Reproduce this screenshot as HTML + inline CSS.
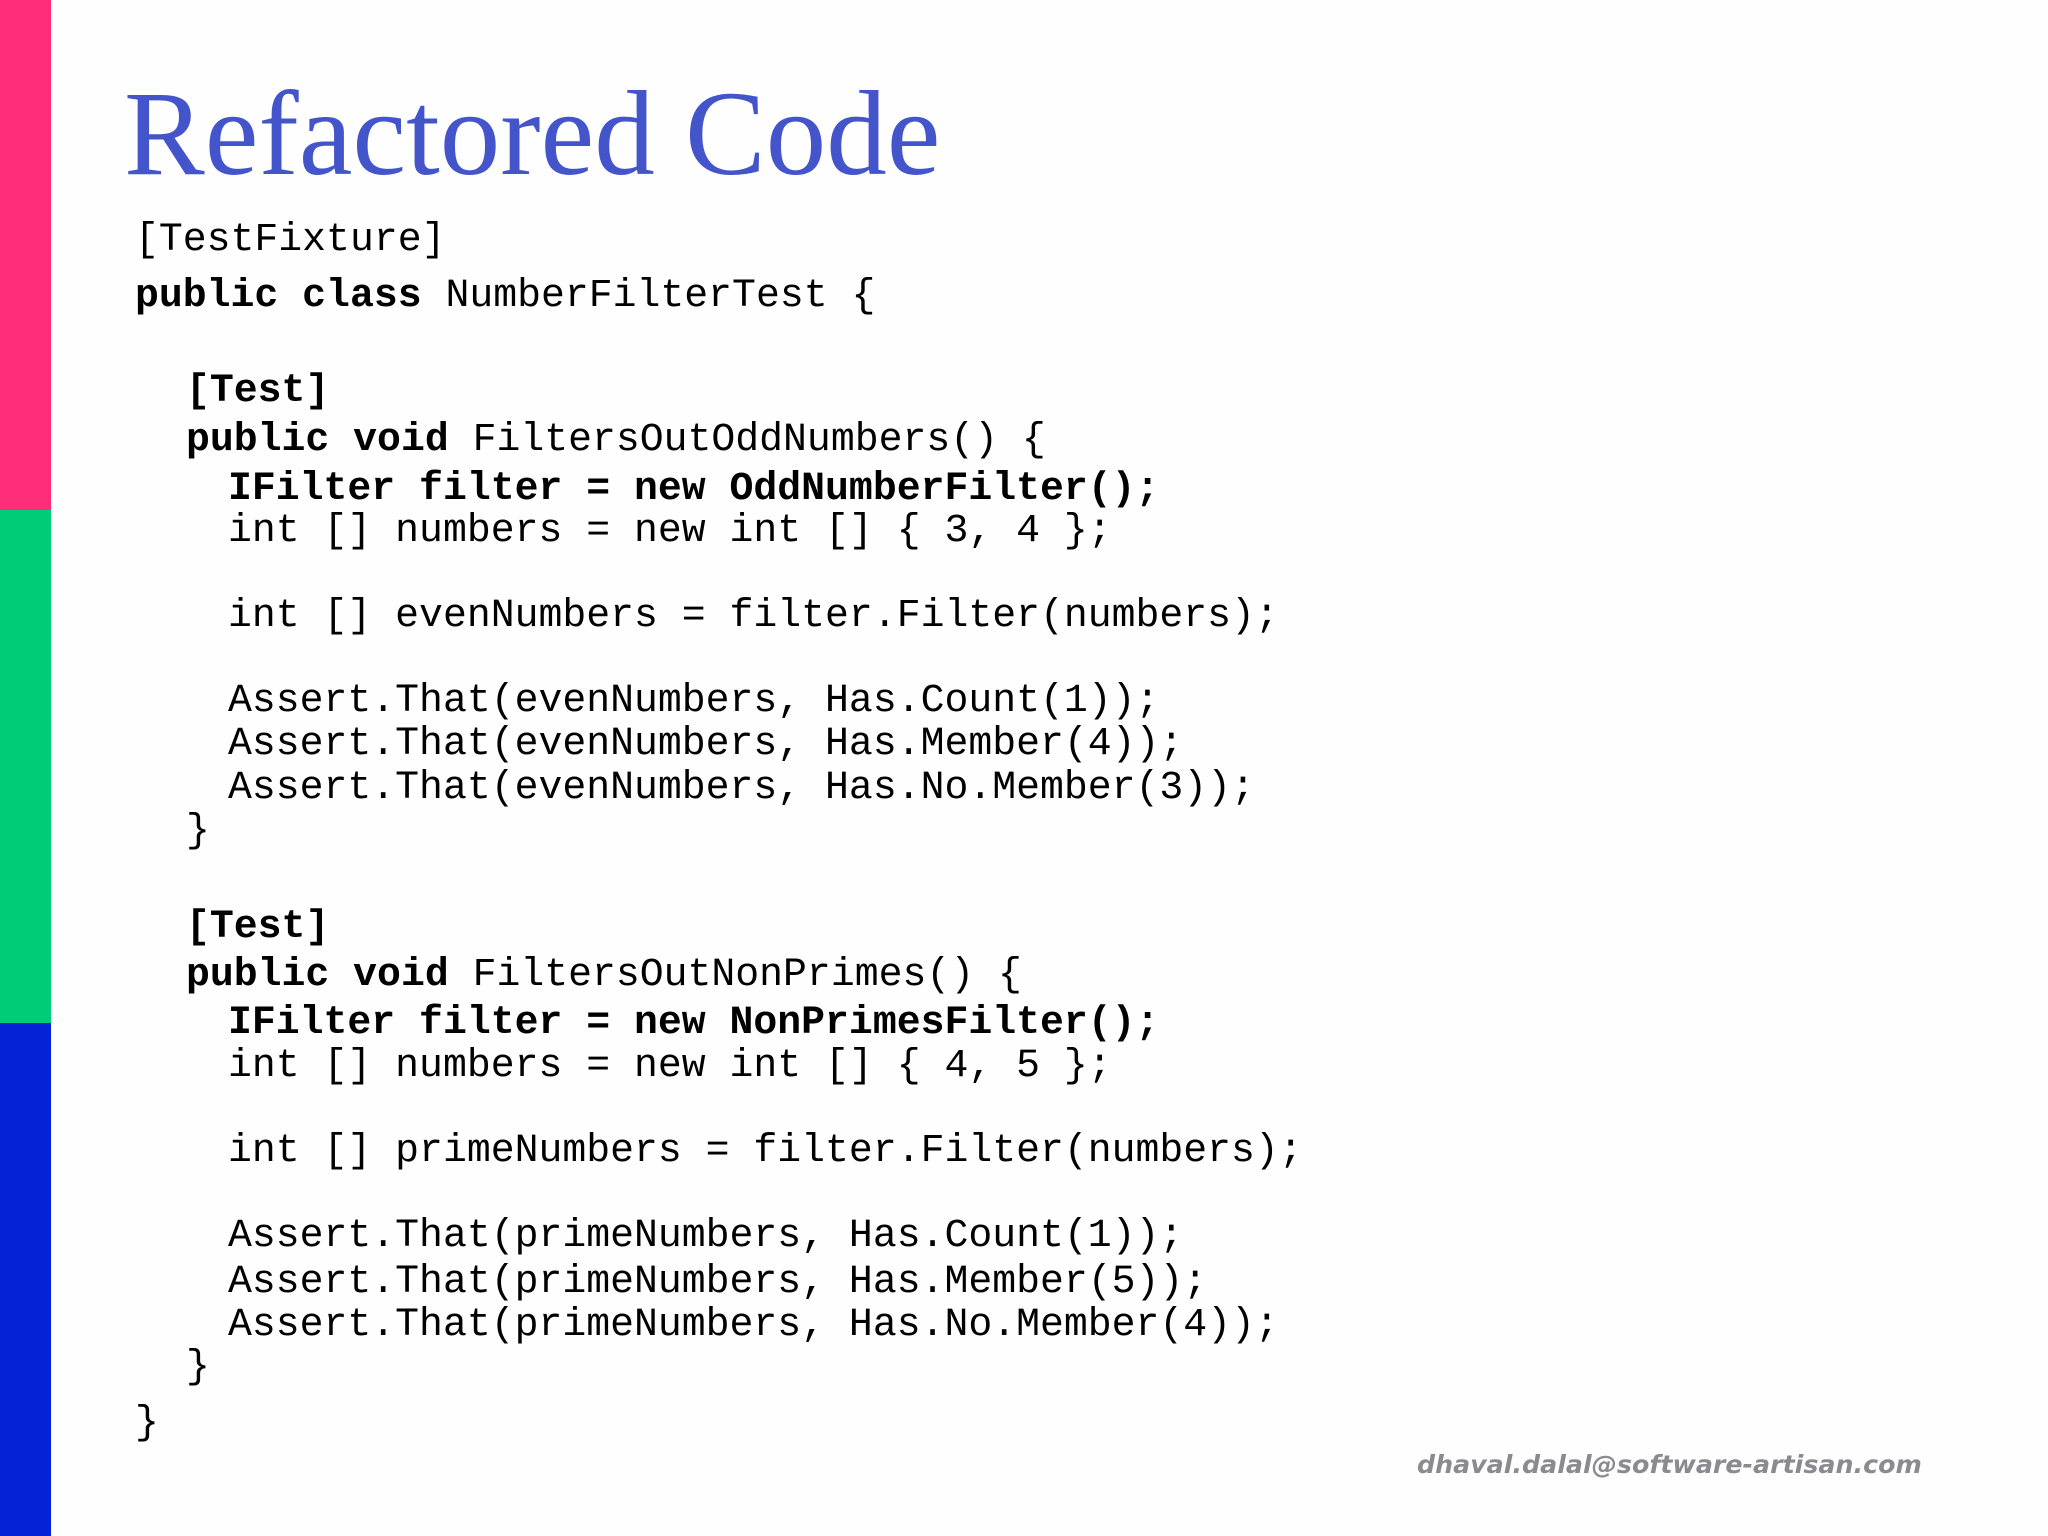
<!DOCTYPE html>
<html><head><meta charset="utf-8"><style>
body{margin:0;width:2048px;height:1536px;background:#fefeff;position:relative;overflow:hidden}
.bar{position:absolute;left:0;width:51px}
.t{position:absolute;left:124px;top:74px;font-family:"Liberation Serif",serif;font-size:121px;color:#4455cc;line-height:1;white-space:nowrap}
.l{position:absolute;font-family:"Liberation Mono",monospace;font-size:39.8px;line-height:39px;white-space:pre;color:#000}
b{font-weight:bold}
.f{position:absolute;left:1417px;top:1450px;font-family:"DejaVu Sans",sans-serif;font-weight:bold;font-style:italic;font-size:25.3px;color:#8a8a90;white-space:nowrap}
</style></head><body>
<div class="bar" style="top:0;height:510px;background:#ff2d7a"></div>
<div class="bar" style="top:510px;height:513px;background:#00cc77"></div>
<div class="bar" style="top:1023px;height:513px;background:#0522d6"></div>
<div class="t">Refactored Code</div>
<div class="l" style="left:135px;top:220px">[TestFixture]</div>
<div class="l" style="left:135px;top:276px"><b>public class</b> NumberFilterTest {</div>
<div class="l" style="left:186px;top:371px"><b>[Test]</b></div>
<div class="l" style="left:186px;top:420px"><b>public void</b> FiltersOutOddNumbers() {</div>
<div class="l" style="left:228px;top:469px"><b>IFilter filter = new OddNumberFilter();</b></div>
<div class="l" style="left:228px;top:511px">int [] numbers = new int [] { 3, 4 };</div>
<div class="l" style="left:228px;top:596px">int [] evenNumbers = filter.Filter(numbers);</div>
<div class="l" style="left:228px;top:681px">Assert.That(evenNumbers, Has.Count(1));</div>
<div class="l" style="left:228px;top:724px">Assert.That(evenNumbers, Has.Member(4));</div>
<div class="l" style="left:228px;top:768px">Assert.That(evenNumbers, Has.No.Member(3));</div>
<div class="l" style="left:186px;top:811px">}</div>
<div class="l" style="left:186px;top:907px"><b>[Test]</b></div>
<div class="l" style="left:186px;top:955px"><b>public void</b> FiltersOutNonPrimes() {</div>
<div class="l" style="left:228px;top:1003px"><b>IFilter filter = new NonPrimesFilter();</b></div>
<div class="l" style="left:228px;top:1046px">int [] numbers = new int [] { 4, 5 };</div>
<div class="l" style="left:228px;top:1131px">int [] primeNumbers = filter.Filter(numbers);</div>
<div class="l" style="left:228px;top:1216px">Assert.That(primeNumbers, Has.Count(1));</div>
<div class="l" style="left:228px;top:1262px">Assert.That(primeNumbers, Has.Member(5));</div>
<div class="l" style="left:228px;top:1305px">Assert.That(primeNumbers, Has.No.Member(4));</div>
<div class="l" style="left:186px;top:1347px">}</div>
<div class="l" style="left:135px;top:1403px">}</div>
<div class="f">dhaval.dalal@software-artisan.com</div>
</body></html>
